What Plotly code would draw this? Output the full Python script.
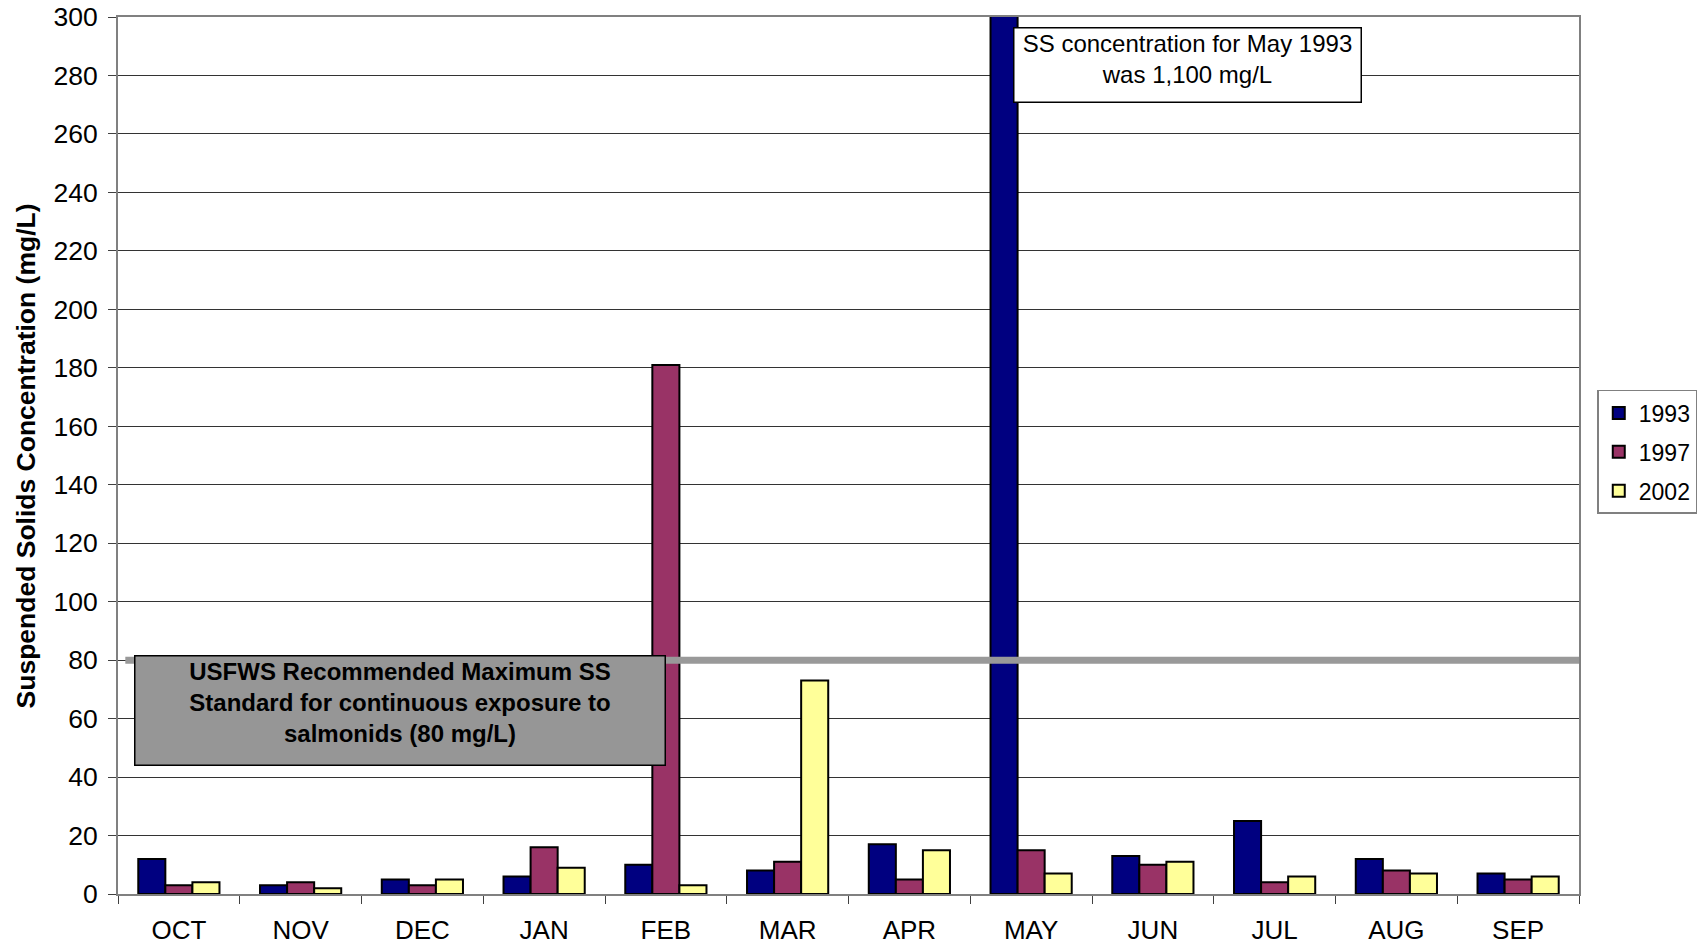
import plotly.graph_objects as go

months = ["OCT", "NOV", "DEC", "JAN", "FEB", "MAR", "APR", "MAY", "JUN", "JUL", "AUG", "SEP"]
ss_1993 = [12, 3, 5, 6, 10, 8, 17, 1100, 13, 25, 12, 7]
ss_1997 = [3, 4, 3, 16, 181, 11, 5, 15, 10, 4, 8, 5]
ss_2002 = [4, 2, 5, 9, 3, 73, 15, 7, 11, 6, 7, 6]
standard = 80

FONT = "Liberation Sans, Arial, sans-serif"

fig = go.Figure()
for name, vals, col in [("1993", ss_1993, "#000080"),
                        ("1997", ss_1997, "#993366"),
                        ("2002", ss_2002, "#FFFF99")]:
    fig.add_trace(go.Bar(x=months, y=vals, name=name, legendgroup=name,
                         marker=dict(color=col, line=dict(color="black", width=2))))

fig.add_shape(type="line", xref="paper", yref="y", x0=0.005, x1=1, y0=standard, y1=standard,
              line=dict(color="#999999", width=7), layer="above")

fig.add_annotation(xref="paper", yref="paper", x=0.1933, y=0.2087,
                   xanchor="center", yanchor="middle",
                   text="<b>USFWS Recommended Maximum SS<br>Standard for continuous exposure to<br>salmonids (80 mg/L)</b>",
                   showarrow=False, bgcolor="#969696", bordercolor="black", borderwidth=1.5,
                   width=527, height=106, align="center", valign="top",
                   font=dict(family=FONT, size=24, color="black"))

fig.add_annotation(xref="paper", yref="paper", x=0.7317, y=0.9458,
                   xanchor="center", yanchor="middle",
                   text="SS concentration for May 1993<br>was 1,100 mg/L",
                   showarrow=False, bgcolor="white", bordercolor="black", borderwidth=1.5,
                   width=344, height=71, align="center", valign="top",
                   font=dict(family=FONT, size=24, color="black"))

fig.add_annotation(xref="paper", yref="paper", x=-0.063, y=0.5,
                   xanchor="center", yanchor="middle", textangle=-90,
                   text="<b>Suspended Solids Concentration (mg/L)</b>",
                   showarrow=False, font=dict(family=FONT, size=26.5, color="black"))

fig.update_layout(
    width=1701, height=946,
    margin=dict(l=118, r=122, t=17, b=52, autoexpand=False),
    paper_bgcolor="white", plot_bgcolor="white",
    barmode="group", bargap=0.333, bargroupgap=0,
    font=dict(family=FONT, size=24, color="black"),
    legend=dict(x=1.0125, xanchor="left", y=0.5747, yanchor="top",
                bordercolor="#808080", borderwidth=1.5, font=dict(size=23),
                itemwidth=30, tracegroupgap=6, itemsizing="constant"),
    showlegend=True,
)
fig.update_xaxes(type="category", tickson="boundaries", ticks="outside", ticklen=8,
                 tickcolor="#404040", showline=True, linecolor="#808080", linewidth=2,
                 mirror=True, showgrid=False, tickfont=dict(size=26), automargin=False,
                 ticklabelstandoff=12)
fig.update_yaxes(range=[0, 300], dtick=20, ticks="outside", ticklen=8, tickcolor="#404040",
                 showline=True, linecolor="#808080", linewidth=2, mirror=True,
                 showgrid=True, gridcolor="#333333", gridwidth=1, zeroline=False,
                 tickfont=dict(size=26.5), automargin=False, ticklabelstandoff=5,
                 ticklabeloverflow="allow")

fig.write_html("out.html", config={"displayModeBar": False},
               post_script="document.body.style.margin='0';document.body.style.overflow='hidden';")
